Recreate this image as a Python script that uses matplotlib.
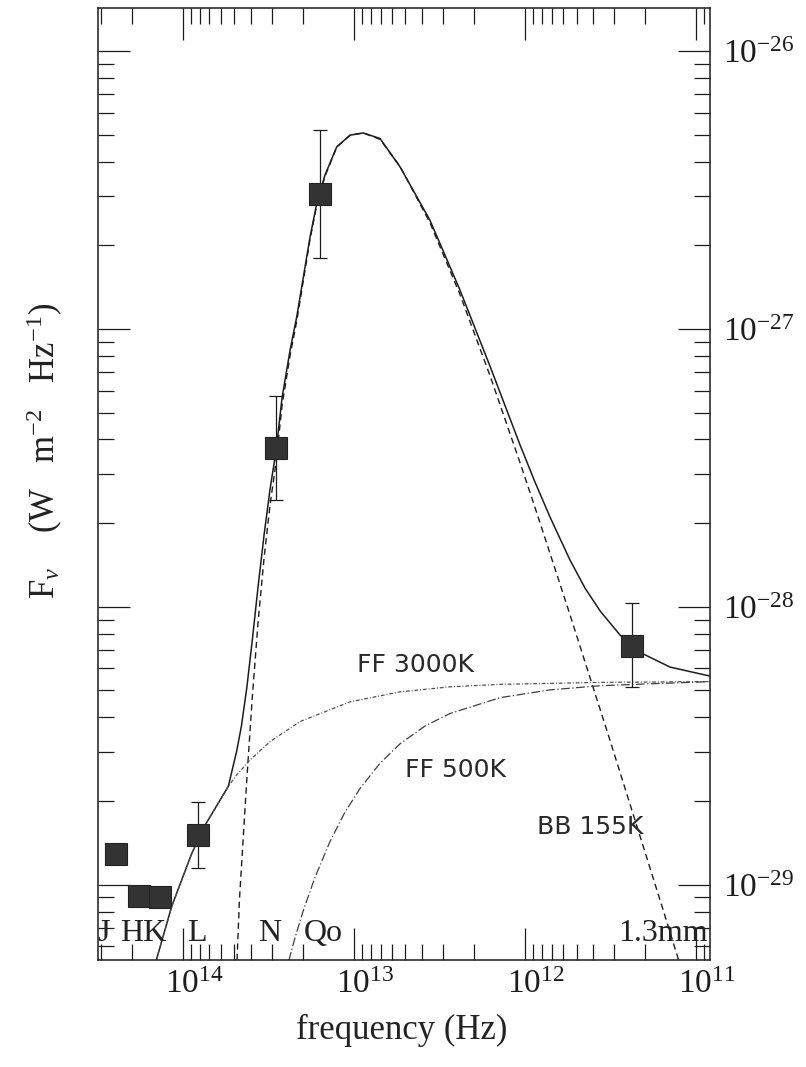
import numpy as np
import matplotlib.pyplot as plt
import matplotlib.transforms as mtransforms
from matplotlib.ticker import LogLocator, NullFormatter

plt.rcParams['font.family'] = ['Liberation Serif', 'DejaVu Serif']
plt.rcParams['mathtext.fontset'] = 'custom'
plt.rcParams['mathtext.rm'] = 'Liberation Serif'
plt.rcParams['mathtext.it'] = 'Liberation Serif:italic'

# photometry, log10 nu (Hz) and log10 F_nu (W m^-2 Hz^-1)
phot_lognu = [14.392, 14.256, 14.134, 13.911, 13.456, 13.199, 11.376]
phot_logf = [-28.890, -29.041, -29.043, -28.821, -27.430, -26.513, -28.140]
# error bars only for L, N, Q and 1.3mm
err_idx = [3, 4, 5, 6]
err_logf_hi = [-28.701, -27.242, -26.283, -27.988]
err_logf_lo = [-28.941, -27.616, -26.745, -28.289]

# total model (BB 155K + FF 3000K)
total_lognu = [14.187, 14.066, 13.949, 13.877, 13.735, 13.686, 13.658, 13.627,
               13.596, 13.561, 13.526, 13.491, 13.456, 13.421, 13.374, 13.335,
               13.296, 13.257, 13.218, 13.170, 13.101, 13.023, 12.946, 12.848,
               12.731, 12.556, 12.380, 12.205, 12.029, 11.942, 11.854, 11.737,
               11.649, 11.561, 11.444, 11.308, 11.152, 10.906]
total_logf = [-29.338, -29.078, -28.888, -28.792, -28.646, -28.519, -28.428, -28.292,
              -28.127, -27.928, -27.742, -27.577, -27.440, -27.249, -27.077, -26.957,
              -26.813, -26.669, -26.549, -26.447, -26.345, -26.303, -26.295, -26.315,
              -26.417, -26.609, -26.861, -27.134, -27.418, -27.551, -27.677, -27.832,
              -27.933, -28.015, -28.102, -28.170, -28.217, -28.251]

# blackbody 155 K
bb_lognu = [13.684, 13.670, 13.627, 13.596, 13.561, 13.526, 13.491, 13.456,
            13.421, 13.374, 13.335, 13.296, 13.257, 13.218, 13.170, 13.101,
            13.023, 12.946, 12.848, 12.731, 12.556, 12.380, 12.205, 12.029,
            11.942, 11.854, 11.737, 11.620, 11.503, 11.415, 11.201, 11.070]
bb_logf = [-29.271, -29.055, -28.623, -28.336, -28.055, -27.825, -27.634, -27.480,
           -27.277, -27.096, -26.972, -26.825, -26.677, -26.555, -26.451, -26.346,
           -26.303, -26.295, -26.318, -26.415, -26.618, -26.877, -27.168, -27.482,
           -27.642, -27.808, -28.029, -28.255, -28.481, -28.654, -29.074, -29.335]

# free-free 3000 K
ff3000_lognu = [14.187, 14.066, 13.949, 13.877, 13.735, 13.686, 13.608, 13.491,
                13.316, 13.023, 12.731, 12.439, 12.146, 11.561, 10.906]
ff3000_logf = [-29.338, -29.078, -28.888, -28.792, -28.646, -28.605, -28.551, -28.485,
               -28.413, -28.342, -28.306, -28.288, -28.279, -28.272, -28.269]

# free-free 500 K
ff500_lognu = [13.404, 13.345, 13.297, 13.228, 13.140, 13.053, 12.965, 12.848,
               12.731, 12.585, 12.439, 12.146, 11.854, 11.561, 11.269, 10.906]
ff500_logf = [-29.325, -29.191, -29.094, -28.973, -28.844, -28.739, -28.654, -28.563,
              -28.493, -28.429, -28.384, -28.327, -28.299, -28.284, -28.277, -28.269]

# filter labels along the bottom
band_labels = ['J', 'HK', 'L', 'N', 'Qo', '1.3mm']
band_label_lognu = [14.462, 14.232, 13.920, 13.491, 13.181, 11.193]

# component names
comp_labels = ['FF 3000K', 'FF 500K', 'BB 155K']
comp_label_lognu = [12.643, 12.409, 11.620]
comp_label_logf = [-28.210, -28.587, -28.792]

xticks_nu = [1e14, 1e13, 1e12, 1e11]
xtick_labels = [r'$\mathrm{10^{14}}$', r'$\mathrm{10^{13}}$', r'$\mathrm{10^{12}}$', r'$\mathrm{10^{11}}$']
yticks_f = [1e-29, 1e-28, 1e-27, 1e-26]
ytick_labels = [r'$\mathrm{10^{-29}}$', r'$\mathrm{10^{-28}}$', r'$\mathrm{10^{-27}}$', r'$\mathrm{10^{-26}}$']


def pow10(a):
    return 10.0 ** np.asarray(a, dtype=float)


def draw_sed():
    fig = plt.figure(figsize=(8.06, 10.67), dpi=100)
    ax = fig.add_axes([0.121, 0.1003, 0.760, 0.892])
    ax.set_xscale('log')
    ax.set_yscale('log')
    ax.set_xlim(3.16e14, 8.28e10)
    ax.set_ylim(5.36e-30, 1.425e-26)

    line_col = '#1c1c1c'
    ax.plot(pow10(total_lognu), pow10(total_logf), color=line_col, lw=1.1)
    ax.plot(pow10(bb_lognu), pow10(bb_logf), color=line_col, lw=1.0, dashes=(4.5, 3))
    ax.plot(pow10(ff3000_lognu), pow10(ff3000_logf), color='#505050', lw=0.9,
            dashes=(3, 1.5, 0.8, 1.5))
    ax.plot(pow10(ff500_lognu), pow10(ff500_logf), color='#404040', lw=0.9,
            dashes=(7, 2, 1, 2))

    # error bars then the squares on top
    nu = pow10(phot_lognu)
    flux = pow10(phot_logf)
    e_nu = nu[err_idx]
    e_f = flux[err_idx]
    yerr = [e_f - pow10(err_logf_lo), pow10(err_logf_hi) - e_f]
    ax.errorbar(e_nu, e_f, yerr=yerr, fmt='none', ecolor=line_col, elinewidth=0.9,
                capsize=5, capthick=0.9, zorder=4)
    ax.plot(nu, flux, 's', ms=15.5, color='#333333', mec='#222222', mew=0.8, zorder=5)

    # filter names
    trans = mtransforms.blended_transform_factory(ax.transData, ax.transAxes)
    for name, lnu in zip(band_labels, band_label_lognu):
        ax.text(10 ** lnu, 0.028, name, transform=trans, ha='center', va='center',
                fontsize=23, color='#222222')

    for name, lnu, lf in zip(comp_labels, comp_label_lognu, comp_label_logf):
        ax.text(10 ** lnu, 10 ** lf, name, ha='center', va='center', fontsize=18,
                family='DejaVu Sans', color='#2a2a2a')

    ax.xaxis.set_major_locator(LogLocator(base=10, numticks=20))
    ax.xaxis.set_minor_locator(LogLocator(base=10, subs=np.arange(2, 10), numticks=50))
    ax.yaxis.set_major_locator(LogLocator(base=10, numticks=20))
    ax.yaxis.set_minor_locator(LogLocator(base=10, subs=np.arange(2, 10), numticks=50))
    ax.set_xticks(xticks_nu, xtick_labels)
    ax.set_yticks(yticks_f, ytick_labels)
    ax.xaxis.set_minor_formatter(NullFormatter())
    ax.yaxis.set_minor_formatter(NullFormatter())

    ax.tick_params(which='both', direction='in', top=True, bottom=True, left=True, right=True,
                   labelleft=False, labelright=True, colors='#1c1c1c')
    ax.tick_params(which='major', length=23, width=0.9, labelsize=24)
    ax.tick_params(which='minor', length=11.5, width=0.9)
    ax.tick_params(axis='x', pad=7)
    ax.tick_params(axis='y', pad=9)
    for sp in ax.spines.values():
        sp.set_linewidth(1.1)
        sp.set_color('#1c1c1c')

    # keep the "10" under its tick, the exponent hangs to the right
    shift = mtransforms.ScaledTranslation(8 / 72, 0, fig.dpi_scale_trans)
    for lab in ax.get_xticklabels():
        lab.set_transform(lab.get_transform() + shift)

    fig.text(402 / 806, 1 - 1030 / 1067, 'frequency (Hz)', ha='center', va='center',
             fontsize=25, color='#222222')
    fig.text(45 / 806, 1 - 451 / 1067, r'F$_{\nu}$    (W   m$^{-2}$   Hz$^{-1}$)', rotation=90,
             ha='center', va='center', fontsize=25, color='#222222')

    fig.savefig('out.png', dpi=100)


def main():
    draw_sed()


if __name__ == '__main__':
    main()
